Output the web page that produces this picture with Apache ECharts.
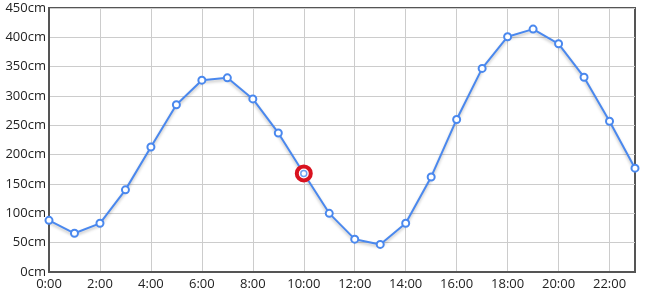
<!DOCTYPE html>
<html><head><meta charset="utf-8">
<script src="https://cdn.jsdelivr.net/npm/echarts@6/dist/echarts.min.js"></script>
<style>html,body{margin:0;padding:0;background:#fff}#c{width:648px;height:300px}</style>
</head><body><div id="c"></div>
<script>
var hours = ['0:00','1:00','2:00','3:00','4:00','5:00','6:00','7:00','8:00','9:00','10:00','11:00','12:00','13:00','14:00','15:00','16:00','17:00','18:00','19:00','20:00','21:00','22:00','23:00'];
var levels = [88,66,83,140,213,285,327,331,295,237,168,100,56,47,83,162,260,347,401,414,389,332,257,177];
var highlightIndex = 10;

var chart = echarts.init(document.getElementById('c'));
var lineColor = '#4a88ee';
chart.setOption({
  animation: false,
  grid: {left: 49, right: 13, top: 8, bottom: 28, show: true, borderColor: '#555', borderWidth: 2},
  xAxis: {
    type: 'category', data: hours, boundaryGap: false,
    axisLine: {lineStyle: {color: '#555', width: 2}},
    axisTick: {show: false},
    axisLabel: {interval: 1, color: '#222', fontSize: 13, fontFamily: 'Open Sans', margin: 6},
    splitLine: {show: true, interval: 1, lineStyle: {color: '#ccc'}}
  },
  yAxis: {
    type: 'value', min: 0, max: 450, interval: 50,
    axisLine: {show: true, lineStyle: {color: '#555', width: 2}},
    axisTick: {show: false},
    axisLabel: {formatter: '{value}cm', color: '#222', fontSize: 13, fontFamily: 'Open Sans', margin: 3},
    splitLine: {lineStyle: {color: '#ccc'}}
  },
  series: [{
    type: 'line', data: levels.map(function (v, i) {
      if (i === highlightIndex) {
        return {value: v, symbolSize: 14, itemStyle: {color: '#fff', borderColor: '#d9121f', borderWidth: 4}};
      }
      return v;
    }),
    symbol: 'circle', symbolSize: 7,
    lineStyle: {color: lineColor, width: 2, shadowColor: 'rgba(0,0,0,0.25)', shadowBlur: 3, shadowOffsetY: 2},
    itemStyle: {color: '#fff', borderColor: lineColor, borderWidth: 2}
  }, {
    type: 'scatter', data: levels.map(function (v, i) { return i === highlightIndex ? v : '-'; }),
    symbol: 'circle', symbolSize: 6, z: 5,
    itemStyle: {color: '#fff', borderColor: lineColor, borderWidth: 1.5}
  }]
});
</script></body></html>
